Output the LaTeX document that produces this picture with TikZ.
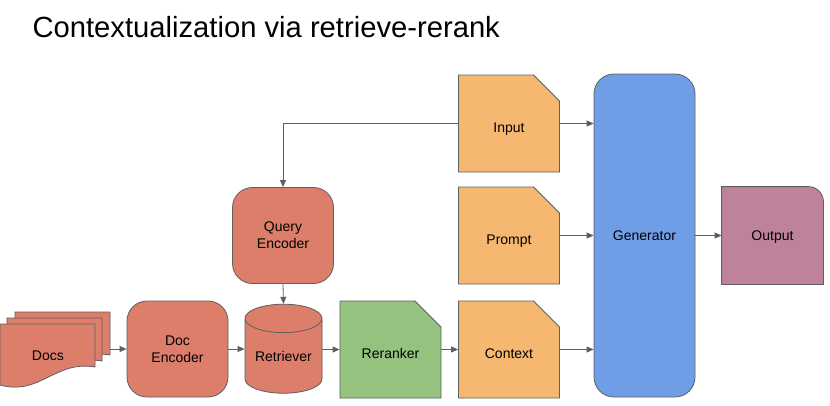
\documentclass[tikz,border=0pt]{standalone}
\usepackage{fontspec}
\setmainfont{Liberation Sans}
\usepackage{tikz}
\usetikzlibrary{shapes.misc, shapes.geometric, arrows.meta, positioning, calc}
\definecolor{encred}{RGB}{221, 126, 107}
\definecolor{ctxorange}{RGB}{246, 184, 112}
\definecolor{rrgreen}{RGB}{150, 194, 127}
\definecolor{genblue}{RGB}{112, 158, 230}
\definecolor{outpink}{RGB}{191, 130, 155}
\definecolor{edgegray}{RGB}{95, 95, 95}

\begin{document}
\begin{tikzpicture}[x=1pt, y=-1pt,
  box/.style={draw=edgegray, line width=0.8pt, font=\fontsize{14}{17}\selectfont,
    align=center, inner sep=0pt},
  encbox/.style={box, fill=encred, rounded corners=20pt, minimum width=101pt, minimum height=96pt},
  foldbox/.style={box, chamfered rectangle, chamfered rectangle corners=north east,
    chamfered rectangle xsep=15pt, chamfered rectangle ysep=15pt,
    text height=20pt, text depth=2pt,
    minimum width=101pt, minimum height=97pt},
  arr/.style={draw=edgegray, line width=0.8pt, -{Triangle[length=7pt, width=6pt]}}]
  \useasboundingbox[fill=white] (0, 0) rectangle (830, 405);

  \node[anchor=base west, font=\fontsize{29.2}{35}\selectfont] (title) at (29, 37)
    {Contextualization via retrieve-rerank};

  \foreach \dx/\dy in {15/312, 7/318, 0/324} {
    \filldraw[fill=encred, draw=edgegray, line width=0.8pt]
      (\dx, \dy) -- ({\dx+95}, \dy) -- ({\dx+95}, {\dy+43})
      .. controls ({\dx+55}, {\dy+36}) and ({\dx+40}, {\dy+72}) .. (\dx, {\dy+61}) -- cycle;
  }
  \coordinate (docsback) at (110, 312);
  \node[box, draw=none, minimum width=95pt, minimum height=62pt, anchor=north west]
    (docs) at (0, 324) {Docs};

  \node[encbox] (docenc) at (177.5, 349) {Doc\\Encoder};
  \node[encbox] (qenc) at (283, 235.5) {Query\\Encoder};
  \node[box, fill=encred, cylinder, shape border rotate=90, aspect=0.5,
    cylinder uses custom fill, cylinder body fill=encred, cylinder end fill=encred,
    minimum width=77pt, minimum height=89pt] (retr) at (283.5, 356) {Retriever};

  \node[foldbox, fill=rrgreen] (rerank) at (390.5, 349.5) {Reranker};
  \node[foldbox, fill=ctxorange] (context) at (509, 349.5) {Context};
  \node[foldbox, fill=ctxorange] (prompt) at (509, 235.5) {Prompt};
  \node[foldbox, fill=ctxorange] (input) at (509, 123.5) {Input};

  \node[box, fill=genblue, rounded corners=20pt, minimum width=101pt, minimum height=323pt]
    (gen) at (644.5, 235.5) {Generator};

  \node[box, draw=none, minimum width=101pt, minimum height=97pt] (outp) at (772.5, 235.5) {};
  \filldraw[fill=outpink, draw=edgegray, line width=0.8pt]
    (outp.south west) -- (outp.north west) -- ($(outp.north east)+(-15, 0)$)
    arc[start angle=-90, end angle=0, radius=15] -- (outp.south east) -- cycle;
  \node[box, draw=none, yshift=-2pt] at (outp) {Output};

  \draw[arr] (docsback |- docenc.west) -- (docenc.west);
  \draw[arr] (docenc.east) -- (docenc.east -| retr.west);
  \draw[arr] (qenc.south) -- (retr.north);
  \draw[arr] (input.west) -| (qenc.north);
  \draw[arr] (retr.east |- rerank.west) -- (rerank.west);
  \draw[arr] (rerank.east) -- (context.west);
  \draw[arr] (input.east) -- (input.east -| gen.west);
  \draw[arr] (prompt.east) -- (prompt.east -| gen.west);
  \draw[arr] (context.east) -- (context.east -| gen.west);
  \draw[arr] (gen.east) -- (outp.west);
\end{tikzpicture}
\end{document}
